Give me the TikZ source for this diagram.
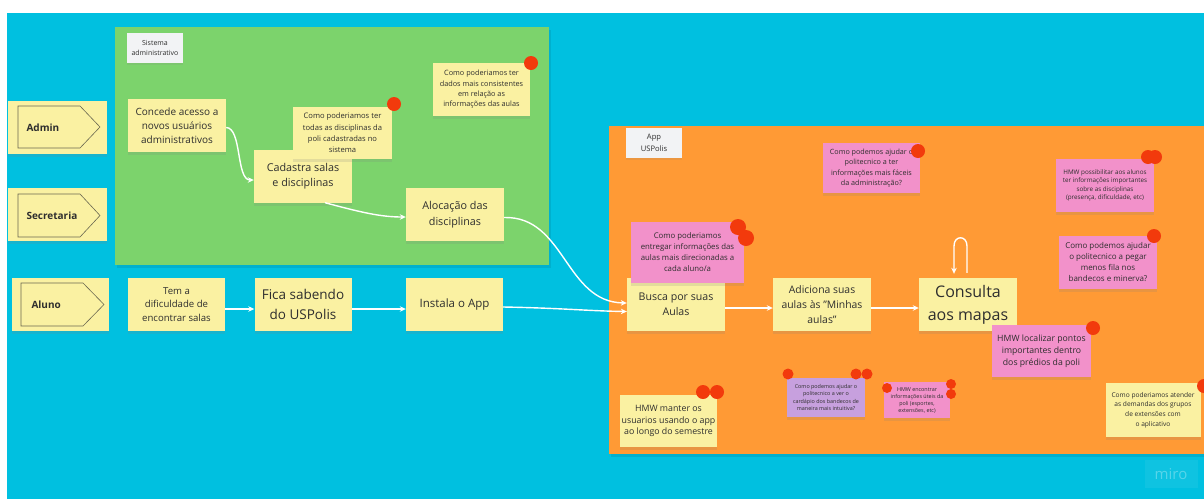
\documentclass[tikz,border=0pt]{standalone}
\usepackage{fontspec}
\setmainfont{Open Sans}
\usetikzlibrary{arrows.meta,shadows}

\definecolor{board}{HTML}{00C0E0}
\definecolor{zonegreen}{HTML}{7CD36C}
\definecolor{zoneorange}{HTML}{FF9A35}
\definecolor{stickyyellow}{HTML}{FAF1A2}
\definecolor{stickypink}{HTML}{F291CA}
\definecolor{stickypurple}{HTML}{C7A0DE}
\definecolor{vote}{HTML}{F23A0C}
\definecolor{ink}{HTML}{2E2E2E}
\definecolor{tagbg}{HTML}{F2F3F5}
\definecolor{actorline}{HTML}{6A6850}

\newcommand{\fs}[2]{\fontsize{#1}{#2}\selectfont}

\tikzset{
  sticky/.style={fill=stickyyellow, text=ink, align=center, inner sep=1pt,
    drop shadow={shadow xshift=0pt, shadow yshift=-3pt, opacity=0.18}},
  pinknote/.style={sticky, fill=stickypink},
  purplenote/.style={sticky, fill=stickypurple},
  zonetag/.style={fill=tagbg, text=ink, align=center, inner sep=1pt,
    minimum width=56pt, minimum height=30pt,
    drop shadow={shadow xshift=0pt, shadow yshift=-2pt, opacity=0.15}},
  wide/.style={minimum width=98pt, minimum height=53pt},
  actorshape/.style={draw=actorline, line width=0.6pt},
  actorlabel/.style={anchor=west, text=ink, font=\bfseries\fs{10}{12}},
  flow/.style={white, line width=1.4pt, -{Stealth[length=6pt, width=5.5pt]}},
  dot/.style={fill=vote}
}

\begin{document}
\begin{tikzpicture}[x=1pt, y=-1pt]
\useasboundingbox (0,0) rectangle (1204,499);

% board and the two zones
\fill[white] (0,0) rectangle (1204,499);
\fill[board] (7,13) rectangle (1204,499);
\fill[black, opacity=0.08] (117,30) rectangle (551,268);
\fill[zonegreen] (115,27) rectangle (549,265);
\fill[black, opacity=0.08] (611,129) rectangle (1204,457);
\fill[zoneorange] (609,126) rectangle (1204,454);

% zone tags
\node[zonetag, font=\fs{7}{9.5}] (tagsis) at (155,48) {Sistema\\administrativo};
\node[zonetag, font=\fs{7.6}{11.5}] (tagapp) at (654,143) {App\\USPolis};

% actors
\node[sticky, minimum width=99pt, minimum height=53pt] (admin) at (57.5,127.5) {};
\draw[actorshape] (18,106) -- (80,106) -- (100,127) -- (80,148) -- (18,148) -- cycle;
\node[actorlabel] (adminlbl) at (23,127.5) {Admin};

\node[sticky, minimum width=99pt, minimum height=53pt] (secretaria) at (57.5,214.5) {};
\draw[actorshape] (18,194) -- (80,194) -- (100,215.5) -- (80,237) -- (18,237) -- cycle;
\node[actorlabel] (secretarialbl) at (23,215.5) {Secretaria};

\node[sticky, minimum width=97pt, minimum height=53pt] (aluno) at (60.5,304.5) {};
\draw[actorshape] (21,283) -- (83,283) -- (104,304.5) -- (83,326) -- (21,326) -- cycle;
\node[actorlabel] (alunolbl) at (28,304.5) {Aluno};

% administrative system
\node[sticky, wide, font=\fs{10}{14}] (concede) at (177,125.5) {Concede acesso a\\novos usuários\\administrativos};
\node[sticky, wide, font=\fs{10.8}{15.5}] (cadastra) at (303,176) {Cadastra salas\\e disciplinas};
\node[sticky, minimum width=99pt, minimum height=52pt, font=\fs{7.6}{11.3}] (qtodas) at (342.5,133) {Como poderiamos ter\\todas as disciplinas da\\poli cadastradas no\\sistema};
\node[sticky, minimum width=97pt, minimum height=53pt, font=\fs{7.3}{10.3}] (qdados) at (481.5,89.5) {Como poderiamos ter\\dados mais consistentes\\em relação as\\informações das aulas};
\node[sticky, wide, font=\fs{10.8}{15.5}] (alocacao) at (455,214.5) {Alocação das\\disciplinas};

% student row
\node[sticky, minimum width=97pt, minimum height=53pt, font=\fs{9.6}{13.5}] (tema) at (176.5,304.5) {Tem a\\dificuldade de\\encontrar salas};
\node[sticky, minimum width=97pt, minimum height=53pt, font=\fs{13.5}{19.5}] (fica) at (303,304.5) {Fica sabendo\\do USPolis};
\node[sticky, minimum width=97pt, minimum height=53pt, font=\fs{11.5}{15}] (instala) at (454.5,304.5) {Instala o App};

% app zone
\node[sticky, wide, font=\fs{10.6}{15}] (busca) at (676,304.5) {Busca por suas\\Aulas};
\node[pinknote, minimum width=113pt, minimum height=61pt, font=\fs{7.8}{11}] (qentregar) at (687.5,252.5) {Como poderiamos\\entregar informações das\\aulas mais direcionadas a\\cada aluno/a};
\node[sticky, wide, font=\fs{10.4}{15}] (adiciona) at (822,304.5) {Adiciona suas\\aulas às "Minhas\\aulas"};
\node[sticky, wide, font=\fs{16}{23}] (consulta) at (968,304.5) {Consulta\\aos mapas};
\node[pinknote, minimum width=97pt, minimum height=50pt, font=\fs{7.2}{10.3}] (qadmin) at (871.5,168) {Como podemos ajudar o\\politecnico a ter\\informações mais fáceis\\da administração?};
\node[pinknote, wide, font=\fs{6.3}{8.5}] (qpossibilitar) at (1105,185.5) {HMW possibilitar aos alunos\\ter informações importantes\\sobre as disciplinas\\(presença, dificuldade, etc)};
\node[pinknote, wide, font=\fs{8}{11}] (qfila) at (1108,262.5) {Como podemos ajudar\\o politecnico a pegar\\menos fila nos\\bandecos e minerva?};
\node[pinknote, minimum width=99pt, minimum height=52pt, font=\fs{8.7}{12}] (qlocalizar) at (1041.5,351) {HMW localizar pontos\\importantes dentro\\dos prédios da poli};
\node[sticky, minimum width=97pt, minimum height=52pt, font=\fs{8.8}{11.5}] (qmanter) at (668.5,421) {HMW manter os\\usuarios usando o app\\ao longo do semestre};
\node[purplenote, minimum width=78pt, minimum height=39pt, font=\fs{5.4}{7.2}] (qcardapio) at (826,397.5) {Como podemos ajudar o\\politecnico a ver o\\cardápio dos bandecos de\\maneira mais intuitiva?};
\node[pinknote, minimum width=66pt, minimum height=36pt, font=\fs{5.4}{7}] (qencontrar) at (917,400) {HMW encontrar\\informações úteis da\\poli (esportes,\\extensões, etc)};
\node[sticky, minimum width=95pt, minimum height=54pt, font=\fs{6.6}{9.7}] (qatender) at (1153,410) {Como poderiamos atender\\as demandas dos grupos\\de extensões com\\o aplicativo};

% votes
\fill[dot] (394,104) circle (7pt);
\fill[dot] (531,63) circle (7pt);
\fill[dot] (738,227) circle (8pt);
\fill[dot] (746,238) circle (8pt);
\fill[dot] (918,151) circle (7pt);
\fill[dot] (1148,157) circle (7pt);
\fill[dot] (1155,157) circle (7pt);
\fill[dot] (1154,236) circle (7pt);
\fill[dot] (1093,328) circle (7pt);
\fill[dot] (703,392) circle (7pt);
\fill[dot] (717,392) circle (7pt);
\fill[dot] (788,374) circle (5.5pt);
\fill[dot] (856,374) circle (5.5pt);
\fill[dot] (867,374) circle (5.5pt);
\fill[dot] (887,388) circle (5pt);
\fill[dot] (951,384) circle (5pt);
\fill[dot] (951,394) circle (5pt);
\fill[dot] (1204,386) circle (7pt);

% flows
\draw[flow] ([yshift=-2pt]concede.east) .. controls (242,128) and (236,180) .. ([yshift=-4pt]cadastra.west);
\draw[flow] ([xshift=22pt]cadastra.south) .. controls (360,212) and (380,217) .. ([yshift=-2.5pt]alocacao.west);
\draw[flow] ([yshift=-3pt]alocacao.east) .. controls (565,216) and (565,302) .. ([yshift=1.5pt]busca.west);
\draw[flow] ([yshift=-2.5pt]instala.east) .. controls (560,308) and (590,311) .. ([yshift=-7pt]busca.west);
\draw[flow] ([yshift=-4.5pt]tema.east) -- ([yshift=-4.5pt]fica.west);
\draw[flow] ([yshift=-4.5pt]fica.east) -- ([yshift=-4.5pt]instala.west);
\draw[flow] ([yshift=-3.5pt]busca.east) -- ([yshift=-3.5pt]adiciona.west);
\draw[flow] ([yshift=-3.5pt]adiciona.east) -- ([yshift=-3.5pt]consulta.west);
\draw[flow] ([xshift=-1pt,yshift=5pt]consulta.north) -- (967,246) .. controls (967,235) and (954,235) .. (954,246) -- ([xshift=-14pt,yshift=4pt]consulta.north);

% watermark
\fill[white, opacity=0.06] (1145,460) rectangle (1198,488);
\node[text=white, opacity=0.3, font=\fs{15}{15}] (miro) at (1171,474) {miro};
\end{tikzpicture}
\end{document}
